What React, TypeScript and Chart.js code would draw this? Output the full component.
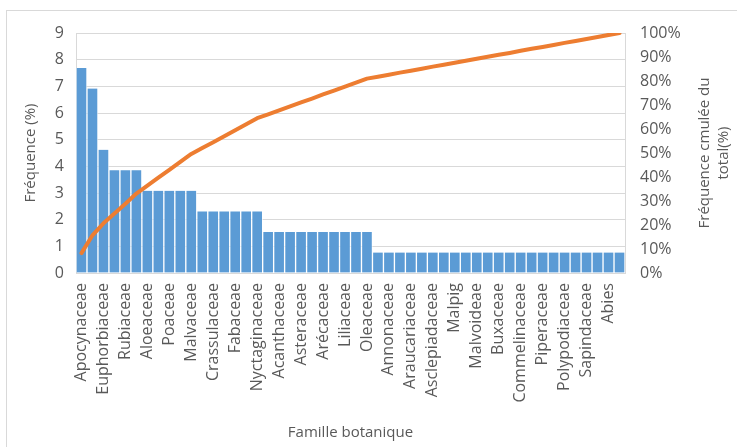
import React, { useEffect, useRef } from "react";
import { Chart, registerables } from "chart.js";

Chart.register(...registerables);

// Botanical families (only every second family carries a printed name on the axis)
const families: string[] = [
  "Apocynaceae", "", "Euphorbiaceae", "", "Rubiaceae", "", "Aloeaceae", "", "Poaceae", "",
  "Malvaceae", "", "Crassulaceae", "", "Fabaceae", "", "Nyctaginaceae", "", "Acanthaceae", "",
  "Asteraceae", "", "Arécaceae", "", "Liliaceae", "", "Oleaceae", "", "Annonaceae", "",
  "Araucariaceae", "", "Asclepiadaceae", "", "Malpig", "", "Malvoideae", "", "Buxaceae", "",
  "Commelinaceae", "", "Piperaceae", "", "Polypodiaceae", "", "Sapindaceae", "", "Abies", "",
];

// Frequency of each family (%)
const frequency: number[] = [
  7.69, 6.92, 4.62, 3.85, 3.85, 3.85, 3.08, 3.08, 3.08, 3.08,
  3.08, 2.31, 2.31, 2.31, 2.31, 2.31, 2.31, 1.54, 1.54, 1.54,
  1.54, 1.54, 1.54, 1.54, 1.54, 1.54, 1.54, 0.77, 0.77, 0.77,
  0.77, 0.77, 0.77, 0.77, 0.77, 0.77, 0.77, 0.77, 0.77, 0.77,
  0.77, 0.77, 0.77, 0.77, 0.77, 0.77, 0.77, 0.77, 0.77, 0.77,
];

// Cumulative frequency of the total (%)
const cumulative: number[] = [
  8.3, 15.7, 20.7, 24.8, 28.9, 33.1, 36.4, 39.7, 43.0, 46.3,
  49.6, 52.1, 54.5, 57.0, 59.5, 62.0, 64.5, 66.1, 67.8, 69.4,
  71.1, 72.7, 74.4, 76.0, 77.7, 79.3, 81.0, 81.8, 82.6, 83.5,
  84.3, 85.1, 86.0, 86.8, 87.6, 88.4, 89.3, 90.1, 90.9, 91.7,
  92.6, 93.4, 94.2, 95.0, 95.9, 96.7, 97.5, 98.3, 99.2, 100,
];

const leftTicks: number[] = [0, 1, 2, 3, 4, 5, 6, 7, 8, 9];
const rightTicks: number[] = [0, 10, 20, 30, 40, 50, 60, 70, 80, 90, 100];

const xTitle = "Famille botanique";
const yTitle = "Fréquence (%)";
const y1Title = ["Fréquence cmulée du", "total(%)"];

const TEXT = "#595959";
const GRID = "#D9D9D9";
const FONT = "'Open Sans', sans-serif";

const W = 737;
const H = 447;
const PLOT_LEFT = 76;
const PLOT_RIGHT = 625;
const PLOT_TOP = 33;
const PLOT_BOTTOM = 273;

const titlesPlugin = {
  id: "axisTitles",
  afterDraw(chart: Chart) {
    const ctx = chart.ctx;
    const area = chart.chartArea;
    const midY = (area.top + area.bottom) / 2;
    ctx.save();
    ctx.fillStyle = TEXT;
    ctx.font = `15px ${FONT}`;
    ctx.textAlign = "center";
    ctx.textBaseline = "middle";
    // left axis title
    ctx.save();
    ctx.translate(31, midY);
    ctx.rotate(-Math.PI / 2);
    ctx.fillText(yTitle, 0, 0);
    ctx.restore();
    // right axis title, two lines
    ctx.save();
    ctx.translate(705, midY);
    ctx.rotate(-Math.PI / 2);
    y1Title.forEach((line, i) => ctx.fillText(line, 0, i * 19));
    ctx.restore();
    // category axis title
    ctx.fillText(xTitle, (area.left + area.right) / 2, 433);
    ctx.restore();
  },
};

export default function App() {
  const canvasRef = useRef<HTMLCanvasElement | null>(null);

  useEffect(() => {
    document.body.style.margin = "0";
    const canvas = canvasRef.current;
    if (!canvas) return;
    const chart = new Chart(canvas, {
      type: "bar",
      data: {
        labels: families,
        datasets: [
          {
            type: "line",
            label: "Fréquence cumulée",
            data: cumulative,
            yAxisID: "y1",
            borderColor: "#ED7D31",
            borderWidth: 4,
            pointRadius: 0,
            tension: 0,
            borderCapStyle: "round",
            borderJoinStyle: "round",
            order: 0,
          },
          {
            type: "bar",
            label: "Fréquence",
            data: frequency,
            yAxisID: "y",
            backgroundColor: "#5B9BD5",
            borderColor: "rgba(255,255,255,0.6)",
            borderWidth: { left: 1, right: 1, top: 0, bottom: 0 },
            borderSkipped: false,
            barPercentage: 1,
            categoryPercentage: 1,
            order: 1,
          },
        ],
      },
      options: {
        responsive: false,
        animation: false,
        devicePixelRatio: 1,
        layout: { padding: { top: PLOT_TOP, left: 0, right: 0, bottom: 0 } },
        plugins: { legend: { display: false }, tooltip: { enabled: false } },
        scales: {
          x: {
            grid: { display: false },
            border: { display: false },
            ticks: {
              autoSkip: false,
              maxRotation: 90,
              minRotation: 90,
              padding: 2,
              color: TEXT,
              font: { family: FONT, size: 16 },
            },
            afterFit(scale: any) {
              scale.height = H - PLOT_BOTTOM;
            },
          },
          y: {
            position: "left",
            min: 0,
            max: 9,
            afterBuildTicks(scale: any) {
              scale.ticks = leftTicks.map((v) => ({ value: v }));
            },
            grid: { color: GRID, lineWidth: 1, drawTicks: false },
            border: { display: true, color: GRID, width: 1 },
            ticks: {
              padding: 12,
              color: TEXT,
              font: { family: FONT, size: 16 },
            },
            afterFit(scale: any) {
              scale.width = PLOT_LEFT;
            },
          },
          y1: {
            position: "right",
            min: 0,
            max: 100,
            afterBuildTicks(scale: any) {
              scale.ticks = rightTicks.map((v) => ({ value: v }));
            },
            grid: { display: false, drawTicks: false },
            border: { display: true, color: GRID, width: 1 },
            ticks: {
              padding: 15,
              color: TEXT,
              font: { family: FONT, size: 16 },
              callback: (v: any) => `${v}%`,
            },
            afterFit(scale: any) {
              scale.width = W - PLOT_RIGHT;
            },
          },
        },
      },
      plugins: [titlesPlugin],
    });
    return () => chart.destroy();
  }, []);

  return (
    <div style={{ position: "fixed", left: 0, top: 0, width: W, height: H, overflow: "hidden", background: "#fff" }}>
      <canvas ref={canvasRef} width={W} height={H} style={{ position: "absolute", left: 0, top: 0 }} />
      <div
        style={{
          position: "absolute",
          left: 6,
          top: 10,
          width: W + 10,
          height: H + 10,
          border: `1px solid ${GRID}`,
          pointerEvents: "none",
        }}
      />
    </div>
  );
}
